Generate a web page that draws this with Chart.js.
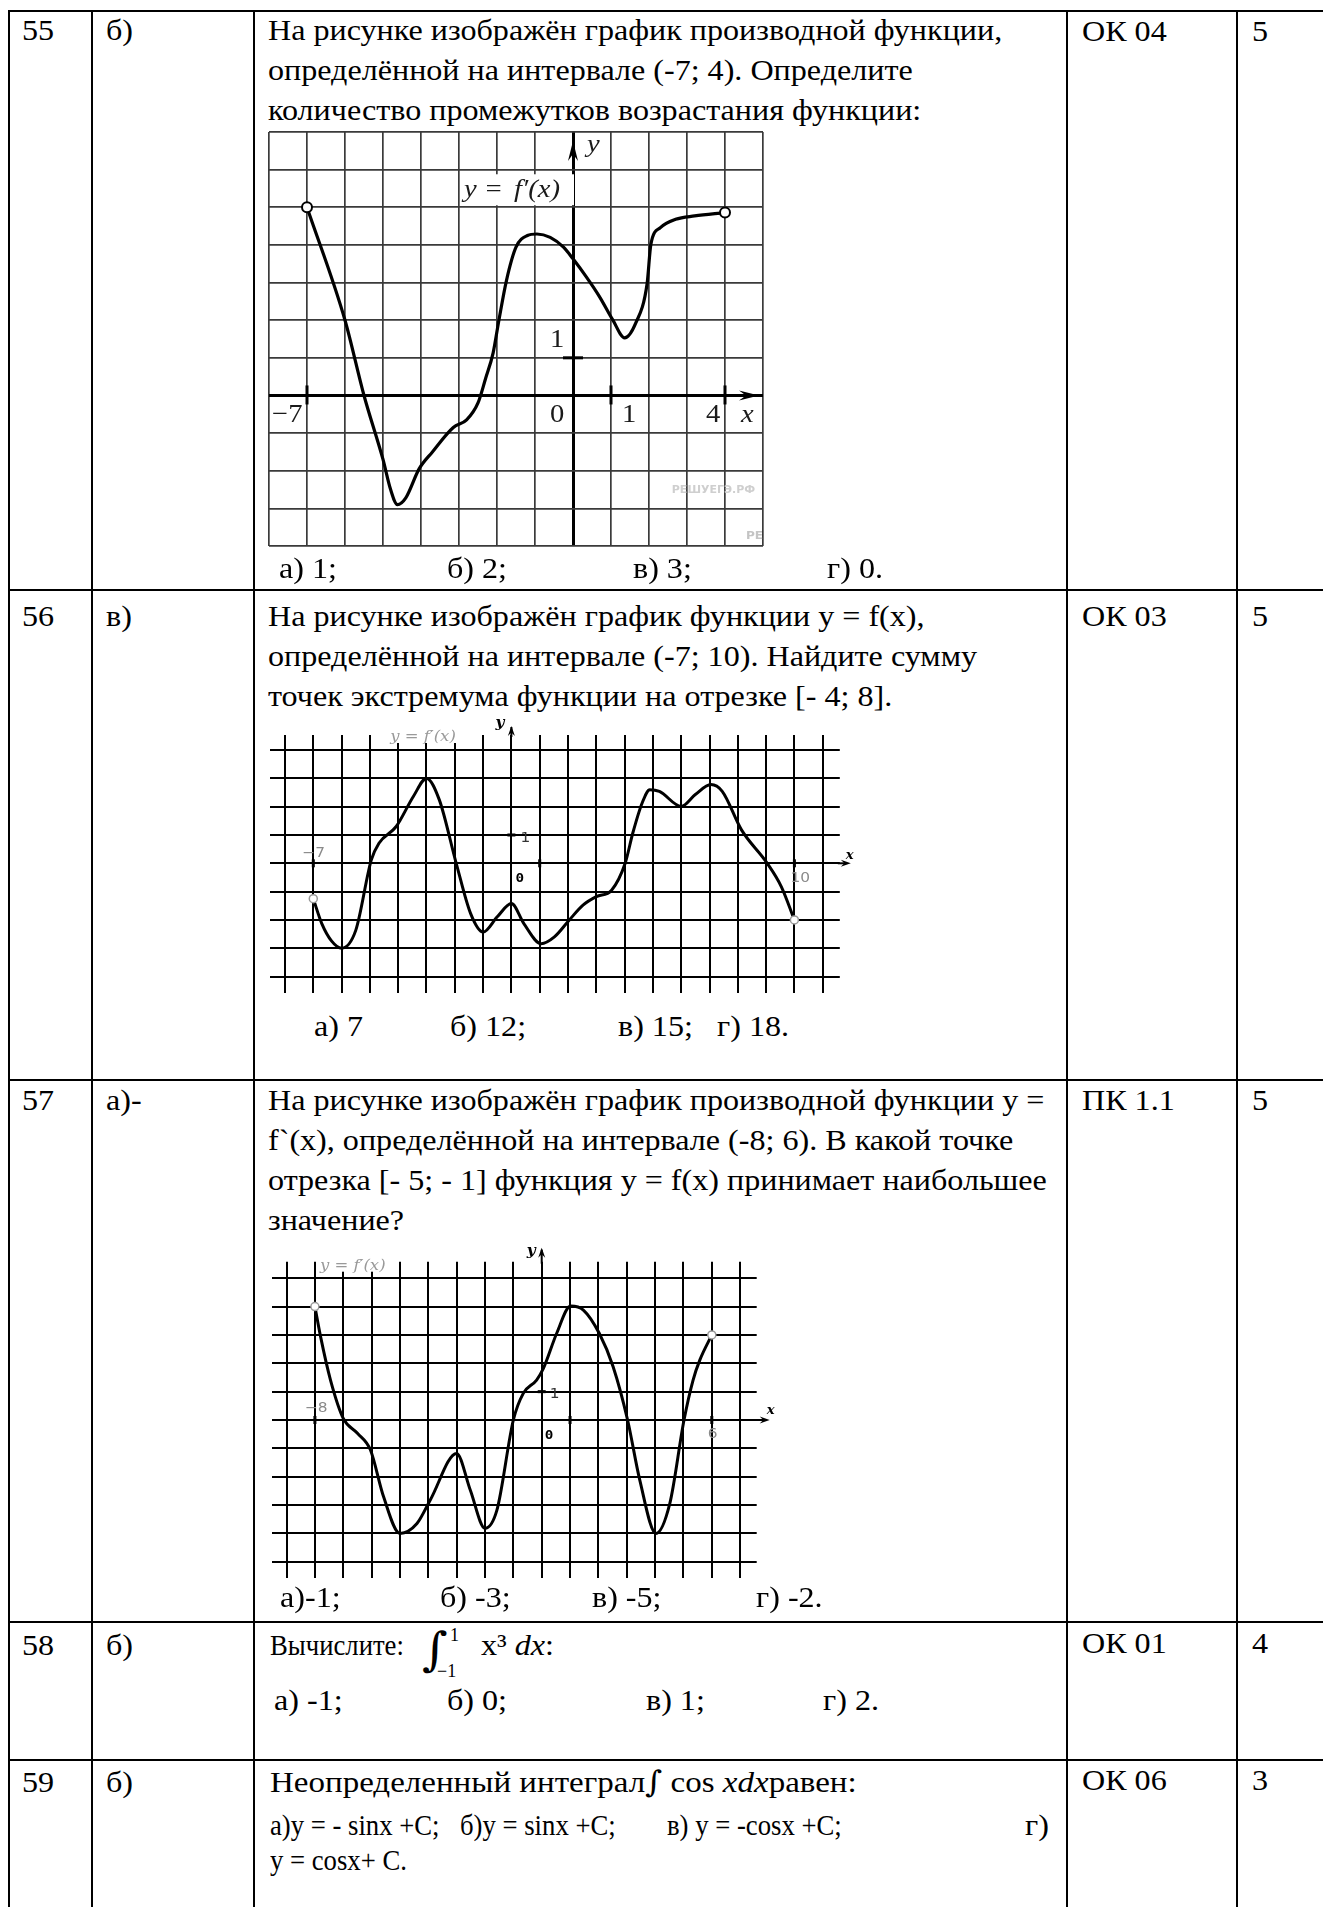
<!DOCTYPE html>
<html lang="ru">
<head>
<meta charset="utf-8">
<title>Тест: производная и интеграл</title>
<script src="https://cdn.jsdelivr.net/npm/chart.js@4.4.1/dist/chart.umd.min.js"></script>
<style>
  body { margin: 0; width: 1323px; height: 1907px; position: relative; overflow: hidden; background: #fff; color: #000; }
  .hl { position: absolute; height: 2px; background: #000; }
  .vl { position: absolute; width: 2px; background: #000; }
  .t { position: absolute; font: 30px/30px "Liberation Serif", "Times New Roman", serif; white-space: pre; transform: scaleX(1.07); transform-origin: 0 0; }
  .n { transform: scaleX(0.89); }
  .s { position: absolute; font: 18px/18px "Liberation Serif", "Times New Roman", serif; white-space: pre; }
  .box { position: absolute; }
</style>
</head>
<body>

<!-- table lines -->
<div class="hl" style="left:8px;top:10px;width:1315px"></div>
<div class="hl" style="left:8px;top:589px;width:1315px"></div>
<div class="hl" style="left:8px;top:1079px;width:1315px"></div>
<div class="hl" style="left:8px;top:1621px;width:1315px"></div>
<div class="hl" style="left:8px;top:1759px;width:1315px"></div>
<div class="vl" style="left:8px;top:10px;height:1897px"></div>
<div class="vl" style="left:91px;top:10px;height:1897px"></div>
<div class="vl" style="left:253px;top:10px;height:1897px"></div>
<div class="vl" style="left:1066px;top:10px;height:1897px"></div>
<div class="vl" style="left:1236px;top:10px;height:1897px"></div>

<!-- 55 -->
<div class="t" style="left:22px;top:15px">55</div>
<div class="t" style="left:106px;top:15px">б)</div>
<div class="t" style="left:268px;top:15px">На рисунке изображён график производной функции,</div>
<div class="t" style="left:268px;top:55px">определённой на интервале (-7; 4). Определите</div>
<div class="t" style="left:268px;top:95px">количество промежутков возрастания функции:</div>
<div class="t" style="left:1082px;top:16px">ОК 04</div>
<div class="t" style="left:1252px;top:16px">5</div>
<div class="box" style="left:262px;top:125px;width:508px;height:428px"><canvas id="g1"></canvas></div>
<div class="t" style="left:279px;top:553px">а) 1;</div>
<div class="t" style="left:447px;top:553px">б) 2;</div>
<div class="t" style="left:633px;top:553px">в) 3;</div>
<div class="t" style="left:827px;top:553px">г) 0.</div>

<!-- 56 -->
<div class="t" style="left:22px;top:601px">56</div>
<div class="t" style="left:106px;top:601px">в)</div>
<div class="t" style="left:268px;top:601px">На рисунке изображён график функции y = f(x),</div>
<div class="t" style="left:268px;top:641px">определённой на интервале (-7; 10). Найдите сумму</div>
<div class="t" style="left:268px;top:681px">точек экстремума функции на отрезке [- 4; 8].</div>
<div class="t" style="left:1082px;top:601px">ОК 03</div>
<div class="t" style="left:1252px;top:601px">5</div>
<div class="box" style="left:262px;top:700px;width:600px;height:300px"><canvas id="g2"></canvas></div>
<div class="t" style="left:314px;top:1011px">а) 7</div>
<div class="t" style="left:450px;top:1011px">б) 12;</div>
<div class="t" style="left:618px;top:1011px">в) 15;</div>
<div class="t" style="left:717px;top:1011px">г) 18.</div>

<!-- 57 -->
<div class="t" style="left:22px;top:1085px">57</div>
<div class="t" style="left:106px;top:1085px">а)-</div>
<div class="t" style="left:268px;top:1085px">На рисунке изображён график производной функции y =</div>
<div class="t" style="left:268px;top:1125px">f`(x), определённой на интервале (-8; 6). В какой точке</div>
<div class="t" style="left:268px;top:1165px">отрезка [- 5; - 1] функция y = f(x) принимает наибольшее</div>
<div class="t" style="left:268px;top:1205px">значение?</div>
<div class="t" style="left:1082px;top:1085px">ПК 1.1</div>
<div class="t" style="left:1252px;top:1085px">5</div>
<div class="box" style="left:262px;top:1235px;width:520px;height:350px"><canvas id="g3"></canvas></div>
<div class="t" style="left:280px;top:1582px">а)-1;</div>
<div class="t" style="left:440px;top:1582px">б) -3;</div>
<div class="t" style="left:592px;top:1582px">в) -5;</div>
<div class="t" style="left:756px;top:1582px">г) -2.</div>

<!-- 58 -->
<div class="t" style="left:22px;top:1630px">58</div>
<div class="t" style="left:106px;top:1630px">б)</div>
<div class="t n" style="left:270px;top:1630px">Вычислите:</div>
<div class="t" style="left:422px;top:1626px;font-family:'DejaVu Serif';font-size:46px;line-height:46px">∫</div>
<div class="s" style="left:450px;top:1626px">1</div>
<div class="s" style="left:437px;top:1662px">−1</div>
<div class="t" style="left:481px;top:1630px">x³ <i>dx</i>:</div>
<div class="t" style="left:1082px;top:1628px">ОК 01</div>
<div class="t" style="left:1252px;top:1628px">4</div>
<div class="t" style="left:274px;top:1685px">а) -1;</div>
<div class="t" style="left:447px;top:1685px">б) 0;</div>
<div class="t" style="left:646px;top:1685px">в) 1;</div>
<div class="t" style="left:823px;top:1685px">г) 2.</div>

<!-- 59 -->
<div class="t" style="left:22px;top:1767px">59</div>
<div class="t" style="left:106px;top:1767px">б)</div>
<div class="t" style="left:270px;top:1767px;transform:scaleX(1.1)">Неопределенный интеграл<span style="font-family:'DejaVu Serif';font-size:30px">∫</span> cos <i>xdx</i>равен:</div>
<div class="t" style="left:1082px;top:1765px">ОК 06</div>
<div class="t" style="left:1252px;top:1765px">3</div>
<div class="t n" style="left:270px;top:1810px">а)y = - sinx +C;</div>
<div class="t n" style="left:460px;top:1810px">б)y = sinx +C;</div>
<div class="t n" style="left:667px;top:1810px">в) y = -cosx +C;</div>
<div class="t" style="left:1025px;top:1810px">г)</div>
<div class="t n" style="left:270px;top:1845px">y = cosx+ C.</div>

<script>
// 55: y = f'(x) on (-7; 4)
const g1X = [-7, -6, -5.5, -5, -4.8, -4.62, -4.4, -4.05, -3.7, -3.15, -2.8, -2.5, -2.3, -2.1, -1.95, -1.75, -1.5, -1.2, -0.95, -0.6, -0.25, 0, 0.35, 0.7, 1.05, 1.36, 1.65, 1.95, 2.05, 2.3, 2.7, 3.2, 4];
const g1Y = [5, 2, 0, -1.7, -2.5, -2.9, -2.72, -1.95, -1.5, -0.85, -0.65, -0.2, 0.45, 1.14, 2.0, 3.06, 3.94, 4.25, 4.29, 4.2, 3.94, 3.63, 3.15, 2.62, 2.0, 1.53, 1.92, 2.97, 4.02, 4.46, 4.68, 4.77, 4.86];

// 56: y = f(x) on (-7; 10)
const g2X = [-7, -6.7, -6.35, -6.0, -5.5, -4.95, -4.68, -4.07, -3.46, -3.0, -2.55, -1.95, -1.44, -1.0, -0.5, 0, 0.44, 1.05, 1.52, 2.04, 2.53, 3.0, 3.54, 4.02, 4.29, 4.62, 4.89, 5.23, 6.0, 6.5, 7.05, 7.45, 8.13, 9.04, 9.54, 10];
const g2Y = [-1.25, -2.13, -2.75, -3.0, -2.37, 0.12, 0.71, 1.3, 2.37, 3.0, 2.25, 0, -1.78, -2.43, -1.89, -1.42, -2.13, -2.84, -2.6, -2.01, -1.48, -1.18, -0.95, 0, 1.07, 2.13, 2.6, 2.54, 2.01, 2.43, 2.78, 2.54, 1.18, 0, -0.83, -2];

// 57: y = f'(x) on (-8; 6)
const g3X = [-8, -7.8, -7.45, -7.0, -6.5, -6.04, -5.58, -5.0, -4.4, -3.93, -3.0, -2.52, -2.0, -1.58, -1.0, -0.65, -0.18, 0.06, 0.53, 1.02, 1.47, 2.03, 2.52, 3.03, 3.46, 4.03, 4.52, 5.02, 5.34, 5.58, 6];
const g3Y = [4, 2.94, 1.41, 0.06, -0.47, -1.06, -2.7, -4.0, -3.65, -2.82, -1.18, -2.47, -3.82, -3.18, 0, 0.94, 1.41, 1.82, 3.06, 4.02, 3.88, 3.06, 1.88, 0, -2.12, -4.0, -2.94, 0, 1.41, 2.12, 3];

// axis labels [value, text]
const g1XLabels = [[-7, "−7"], [0, "0"], [1, "1"], [4, "4"]];
const g2XLabels = [[-7, "−7"], [10, "10"]];
const g3XLabels = [[-8, "−8"], [6, "6"]];

function txt(ctx, s, x, y, font, color) {
  ctx.save();
  ctx.font = font;
  ctx.fillStyle = color || "#000";
  ctx.textBaseline = "alphabetic";
  ctx.translate(x, y);
  ctx.scale(1.1, 1);
  ctx.fillText(s, 0, 0);
  ctx.restore();
}

function arrowRight(ctx, tx, y, len, half) {
  ctx.beginPath();
  ctx.moveTo(tx, y);
  ctx.lineTo(tx - len, y - half);
  ctx.lineTo(tx - len * 0.65, y);
  ctx.lineTo(tx - len, y + half);
  ctx.closePath();
  ctx.fill();
}

function arrowUp(ctx, x, ty, len, half) {
  ctx.beginPath();
  ctx.moveTo(x, ty);
  ctx.lineTo(x - half, ty + len);
  ctx.lineTo(x, ty + len * 0.65);
  ctx.lineTo(x + half, ty + len);
  ctx.closePath();
  ctx.fill();
}

function intOnly(axis) {
  axis.ticks = axis.ticks.filter(t => Math.abs(t.value - Math.round(t.value)) < 1e-6);
}

function buildChart(id, xs, ys, xr, yr, pad, st, deco) {
  const pts = xs.map((x, i) => ({ x: x, y: ys[i] }));
  const ends = [pts[0], pts[pts.length - 1]];
  const gridColor = c => c.tick && c.tick.value === 0 ? "#000" : st.grid;
  const gridWidth = c => c.tick && c.tick.value === 0 ? st.axisW : st.gridW;
  return new Chart(document.getElementById(id), {
    type: "line",
    data: {
      datasets: [{
        data: ends,
        showLine: false,
        pointRadius: st.endR,
        pointBackgroundColor: "#fff",
        pointBorderColor: st.endC,
        pointBorderWidth: st.endW,
      }, {
        data: pts,
        borderColor: "#000",
        borderWidth: st.curveW,
        pointRadius: 0,
        cubicInterpolationMode: "monotone",
        fill: false,
      }],
    },
    options: {
      responsive: true,
      maintainAspectRatio: false,
      animation: false,
      events: [],
      layout: { padding: pad },
      plugins: { legend: { display: false }, tooltip: { enabled: false } },
      scales: {
        x: {
          type: "linear", min: xr[0], max: xr[1],
          ticks: { display: false, stepSize: 1, includeBounds: false },
          grid: { drawTicks: false, color: gridColor, lineWidth: gridWidth },
          border: { display: false },
          afterBuildTicks: intOnly,
        },
        y: {
          type: "linear", min: yr[0], max: yr[1],
          ticks: { display: false, stepSize: 1, includeBounds: false },
          grid: { drawTicks: false, color: gridColor, lineWidth: gridWidth },
          border: { display: false },
          afterBuildTicks: intOnly,
        },
      },
    },
    plugins: [{ id: "deco", afterDatasetsDraw: deco }],
  });
}

document.addEventListener("DOMContentLoaded", () => {
  buildChart("g1", g1X, g1Y, [-8, 5], [-4, 7], 5,
    { grid: "#3a3a3a", gridW: 1.7, axisW: 3, curveW: 3.2, endR: 5, endC: "#000", endW: 2 },
    chart => {
      const ctx = chart.ctx, a = chart.chartArea;
      const px = v => chart.scales.x.getPixelForValue(v);
      const py = v => chart.scales.y.getPixelForValue(v);
      ctx.save();
      ctx.fillStyle = "#000";
      arrowRight(ctx, a.right - 4, py(0), 20, 5);
      arrowUp(ctx, px(0), a.top + 9, 20, 5);
      ctx.fillRect(px(0) - 10, py(1) - 1.5, 20, 3);
      [-7, 1, 4].forEach(v => ctx.fillRect(px(v) - 1.5, py(0) - 10, 3, 19));
      const f = "26px 'Liberation Serif', serif";
      g1XLabels.forEach(([v, s]) => {
        const off = v === -7 ? -35 : v === 0 ? -23 : v === 1 ? 11 : -19;
        txt(ctx, s, px(v) + off, py(0) + 27, f, "#1a1a1a");
      });
      txt(ctx, "x", px(4) + 16, py(0) + 27, "italic " + f, "#1a1a1a");
      txt(ctx, "1", px(0) - 23, py(1) - 11, f, "#1a1a1a");
      txt(ctx, "y", px(0) + 14, a.top + 20, "italic " + f, "#1a1a1a");
      ctx.fillStyle = "#fff";
      ctx.fillRect(px(-3) + 3, py(5) - 33, 112, 31);
      txt(ctx, "y =", px(-3) + 5, py(5) - 10, "italic 26px 'Liberation Serif', serif", "#1a1a1a");
      txt(ctx, "f′(x)", px(-3) + 55, py(5) - 10, "italic 26px 'Liberation Serif', serif", "#1a1a1a");
      txt(ctx, "РЕШУЕГЭ.РФ", px(2.6), py(-2.6), "bold 10px 'DejaVu Sans', sans-serif", "#cfcfcf");
      txt(ctx, "РЕ", a.right - 17, a.bottom - 7, "bold 11px 'DejaVu Sans', sans-serif", "#c4c4c4");
      ctx.restore();
    });

  const small = {
    grid: "#000", gridW: 2, axisW: 2, curveW: 3, endR: 4, endC: "#9a9a9a", endW: 1.5,
  };

  buildChart("g2", g2X, g2Y, [-8.544, 11.604], [-4.583, 4.533],
    { left: 7.6, right: 22.2, top: 35, bottom: 7 }, small,
    chart => {
      const ctx = chart.ctx, a = chart.chartArea;
      const px = v => chart.scales.x.getPixelForValue(v);
      const py = v => chart.scales.y.getPixelForValue(v);
      ctx.save();
      ctx.fillStyle = "#000";
      ctx.fillRect(px(0) - 1, a.top - 8, 2, 10);
      arrowUp(ctx, px(0), a.top - 9, 10, 3.5);
      ctx.fillRect(a.right - 2, py(0) - 1, 8, 2);
      arrowRight(ctx, a.right + 11, py(0), 10, 3.5);
      [-7, 1, 10].forEach(v => ctx.fillRect(px(v) - 1.5, py(0) - 4, 3, 8));
      ctx.fillRect(px(0) - 4, py(1) - 1.5, 8, 3);
      g2XLabels.forEach(([v, s]) => {
        const off = v === -7 ? [-11, -6] : [-4, 19];
        txt(ctx, s, px(v) + off[0], py(0) + off[1], "14px 'DejaVu Sans', sans-serif", "#8a8a8a");
      });
      txt(ctx, "1", px(0) + 9, py(1) + 7, "14px 'DejaVu Sans', sans-serif", "#333");
      txt(ctx, "0", px(0) + 4, py(0) + 19, "bold 13px 'DejaVu Sans Mono', monospace", "#000");
      txt(ctx, "y", px(0) - 16, a.top - 8, "bold italic 14px 'DejaVu Serif', serif", "#000");
      txt(ctx, "x", a.right + 6, py(0) - 4, "bold italic 12px 'DejaVu Serif', serif", "#000");
      ctx.fillStyle = "#fff";
      ctx.fillRect(px(-4) - 10, a.top - 4, 80, 12);
      txt(ctx, "y = f′(x)", px(-4) - 8, a.top + 6, "italic 15px 'DejaVu Serif', serif", "#999");
      ctx.restore();
    });

  buildChart("g3", g3X, g3Y, [-9.524, 7.584], [-5.584, 5.584],
    { left: 9.7, right: 25.3, top: 26.7, bottom: 6.7 }, small,
    chart => {
      const ctx = chart.ctx, a = chart.chartArea;
      const px = v => chart.scales.x.getPixelForValue(v);
      const py = v => chart.scales.y.getPixelForValue(v);
      ctx.save();
      ctx.fillStyle = "#000";
      ctx.fillRect(px(0) - 1, a.top - 12, 2, 14);
      arrowUp(ctx, px(0), a.top - 14, 10, 3.5);
      ctx.fillRect(a.right - 2, py(0) - 1, 10, 2);
      arrowRight(ctx, a.right + 13, py(0), 10, 3.5);
      [-8, 1, 6].forEach(v => ctx.fillRect(px(v) - 1.5, py(0) - 4, 3, 8));
      ctx.fillRect(px(0) - 4, py(1) - 1.5, 8, 3);
      g3XLabels.forEach(([v, s]) => {
        const off = v === -8 ? [-10, -8] : [-4, 18];
        txt(ctx, s, px(v) + off[0], py(0) + off[1], "14px 'DejaVu Sans', sans-serif", "#8a8a8a");
      });
      txt(ctx, "1", px(0) + 8, py(1) + 6, "14px 'DejaVu Sans', sans-serif", "#333");
      txt(ctx, "0", px(0) + 3, py(0) + 19, "bold 13px 'DejaVu Sans Mono', monospace", "#000");
      txt(ctx, "y", px(0) - 15, a.top - 7, "bold italic 14px 'DejaVu Serif', serif", "#000");
      txt(ctx, "x", a.right + 10, py(0) - 6, "bold italic 12px 'DejaVu Serif', serif", "#000");
      ctx.fillStyle = "#fff";
      ctx.fillRect(px(-8) + 3, a.top - 4, 80, 14);
      txt(ctx, "y = f′(x)", px(-8) + 5, a.top + 8, "italic 15px 'DejaVu Serif', serif", "#999");
      ctx.restore();
    });
});
</script>
</body>
</html>
